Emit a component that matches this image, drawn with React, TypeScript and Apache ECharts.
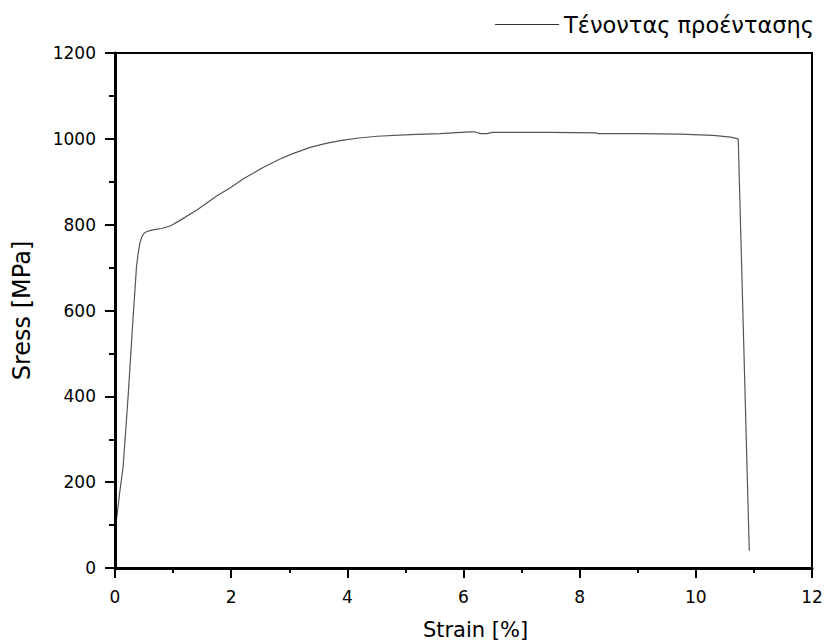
import React, { useEffect, useRef } from "react";
import * as echarts from "echarts";

const strain = [0.02, 0.08, 0.14, 0.23, 0.3, 0.37, 0.4, 0.43, 0.46, 0.5, 0.55, 0.6, 0.7, 0.8, 0.95, 1.12, 1.41, 1.75, 2.0, 2.21, 2.55, 2.84, 3.05, 3.36, 3.65, 3.93, 4.2, 4.51, 5.08, 5.6, 6.1, 6.2, 6.3, 6.4, 6.5, 6.86, 7.5, 8.29, 8.31, 9.0, 9.73, 10.3, 10.6, 10.73, 10.92];
const stress = [105, 175, 236, 408, 560, 702, 735, 758, 771, 780, 784, 786, 789, 791, 797, 810, 834, 867, 887, 907, 933, 953, 965, 980, 990, 997, 1002, 1006, 1010, 1012, 1016, 1016, 1012, 1012, 1015, 1015, 1015, 1014, 1012, 1012, 1011, 1008, 1004, 1000, 40];

const xTicks = [0, 2, 4, 6, 8, 10, 12];
const yTicks = [0, 200, 400, 600, 800, 1000, 1200];
const seriesName = "Τένοντας προέντασης";
const xName = "Strain [%]";
const yName = "Sress [MPa]";

export default function App() {
  const ref = useRef<HTMLDivElement>(null);
  useEffect(() => {
    if (!ref.current) return;
    const chart = echarts.init(ref.current, null, { renderer: "svg" });
    const font = "'DejaVu Sans', sans-serif";
    const xRange = { min: xTicks[0], max: xTicks[xTicks.length - 1], interval: 2 };
    const yRange = { min: yTicks[0], max: yTicks[yTicks.length - 1], interval: 200 };
    const tickOnly = (len: number) => ({
      axisLine: { show: false, onZero: false },
      axisTick: { show: true, inside: false, length: len, lineStyle: { color: "#000", width: 2 } },
      minorTick: { show: false },
      axisLabel: { show: false },
      splitLine: { show: false },
    });
    const border = {
      axisLine: { show: true, onZero: false, lineStyle: { color: "#000", width: 2 } },
      axisTick: { show: false },
      minorTick: { show: false },
      axisLabel: { show: false },
      splitLine: { show: false },
    };
    chart.setOption({
      animation: false,
      backgroundColor: "#fff",
      grid: {
        left: 115,
        right: 14,
        top: 53,
        bottom: 73,
        outerBoundsMode: "none",
        containLabel: false,
      },
      legend: {
        data: [seriesName],
        right: 7,
        top: 8,
        icon: "rect",
        itemWidth: 64,
        itemHeight: 1.2,
        itemGap: 8,
        itemStyle: { color: "#333" },
        textStyle: { fontFamily: font, fontSize: 22.5, color: "#000" },
      },
      xAxis: [
        {
          type: "value",
          ...xRange,
          name: xName,
          nameLocation: "middle",
          nameGap: 51,
          nameTextStyle: { fontFamily: font, fontSize: 21, color: "#000", padding: [0, 0, 0, 24] },
          axisLine: { show: true, onZero: false, lineStyle: { color: "#000", width: 3 } },
          axisTick: { show: false },
          minorTick: { show: true, splitNumber: 2, length: 5, lineStyle: { color: "#000", width: 2 } },
          splitLine: { show: false },
          axisLabel: { fontFamily: font, fontSize: 17, color: "#000", margin: 20 },
          z: 5,
        },
        { type: "value", position: "top", ...xRange, ...border },
        { type: "value", position: "bottom", ...xRange, ...tickOnly(10), z: 6 },
      ],
      yAxis: [
        {
          type: "value",
          ...yRange,
          name: yName,
          nameLocation: "middle",
          nameGap: 81,
          nameTextStyle: { fontFamily: font, fontSize: 24, color: "#000" },
          axisLine: { show: true, onZero: false, lineStyle: { color: "#000", width: 3 } },
          axisTick: { show: false },
          minorTick: { show: true, splitNumber: 2, length: 6, lineStyle: { color: "#000", width: 2 } },
          splitLine: { show: false },
          axisLabel: {
            fontFamily: font,
            fontSize: 17,
            color: "#000",
            margin: 19,
            formatter: (v: number) => String(v),
          },
          z: 5,
        },
        { type: "value", position: "right", ...yRange, ...border },
        { type: "value", position: "left", ...yRange, ...tickOnly(10), z: 6 },
      ],
      series: [
        {
          name: seriesName,
          type: "line",
          xAxisIndex: 0,
          yAxisIndex: 0,
          data: strain.map((s, i) => [s, stress[i]]),
          showSymbol: false,
          symbol: "none",
          smooth: false,
          lineStyle: { color: "#555", width: 1.2 },
          itemStyle: { color: "#333" },
        },
      ],
    });
    return () => chart.dispose();
  }, []);
  return (
    <div
      ref={ref}
      style={{ width: 826, height: 641, position: "absolute", left: 0, top: 0 }}
    />
  );
}
